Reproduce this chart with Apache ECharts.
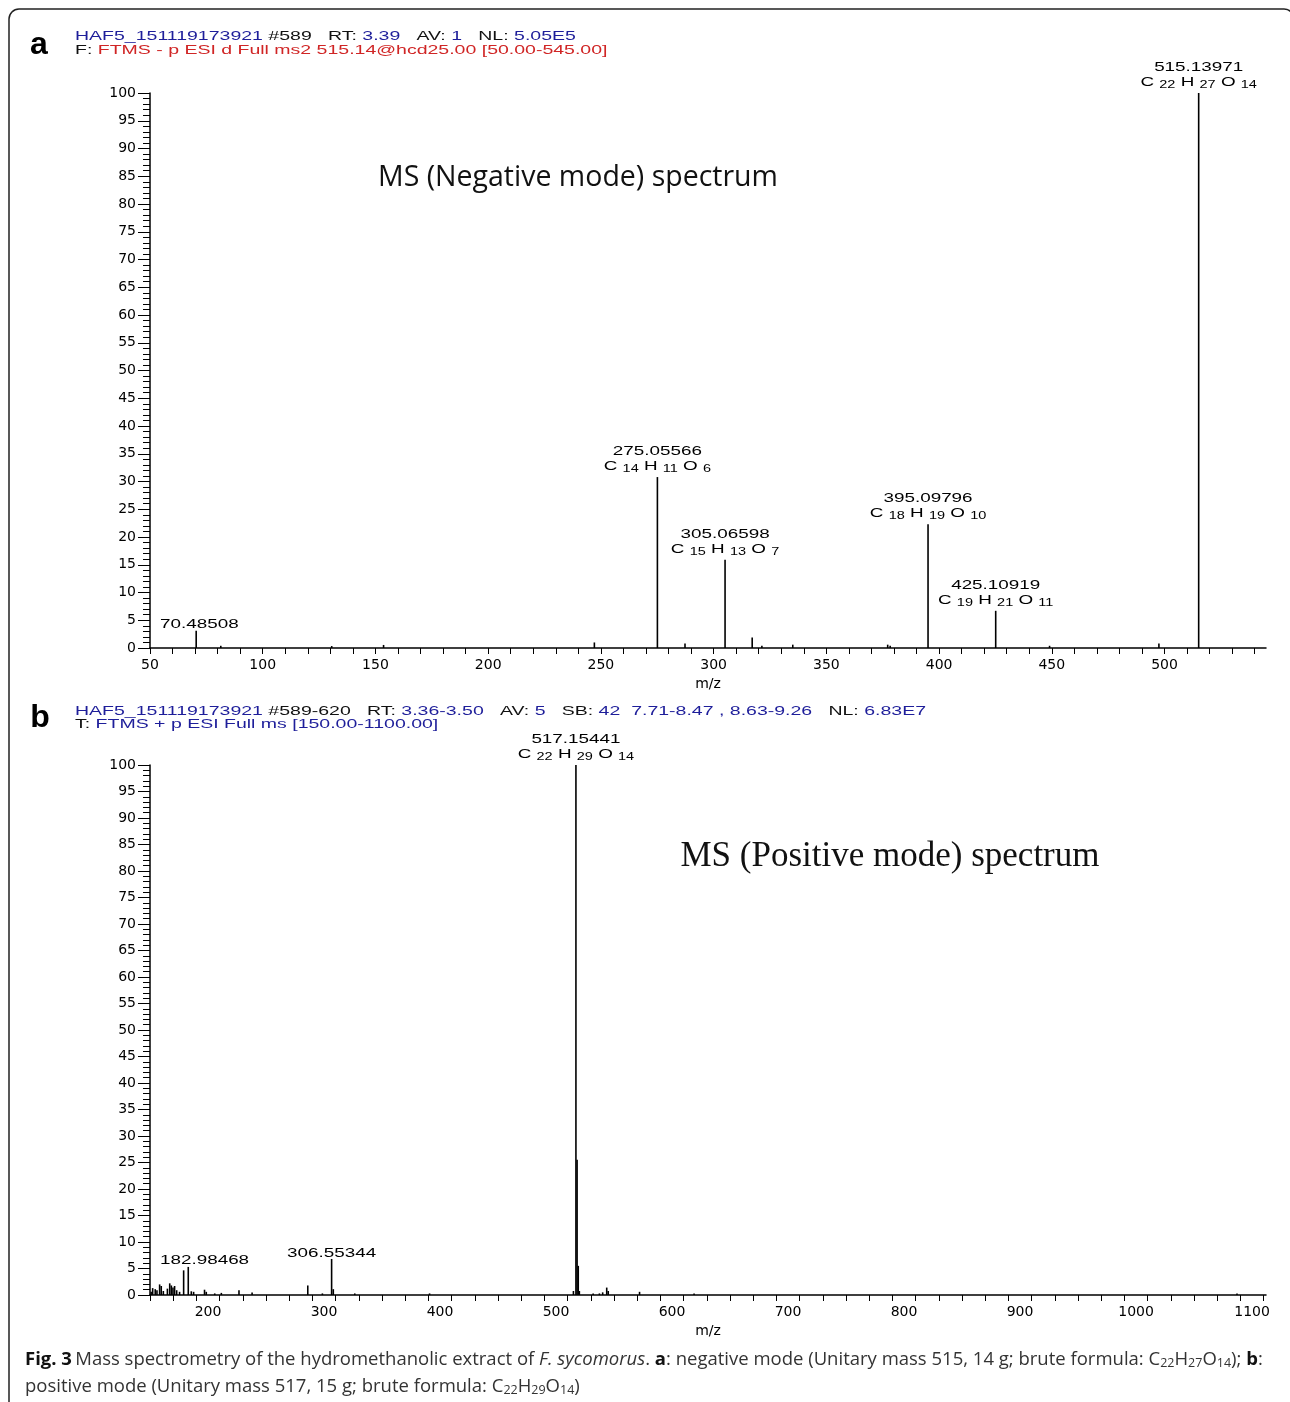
<!DOCTYPE html>
<html><head><meta charset="utf-8">
<script src="https://cdn.jsdelivr.net/npm/echarts@6/dist/echarts.min.js"></script>
<style>html,body{margin:0;padding:0;background:#fff}#c{width:1290px;height:1402px}</style>
</head><body><div id="c"></div><script>
// ---------- DATA ----------
// Panel a: negative mode (m/z, relative abundance %)
const negMz = [70.48508, 81.4, 130.6, 153.6, 247.1, 275.05566, 287.3, 305.06598, 317.1, 321.4, 335.1, 377.2, 378.3, 395.09796, 425.10919, 449.0, 497.5, 515.13971];
const negIntensity = [3.1, 0.4, 0.35, 0.55, 1.0, 30.8, 0.8, 15.9, 1.9, 0.4, 0.6, 0.6, 0.4, 22.3, 6.7, 0.4, 0.8, 100];
const negLabelMz = [70.48508, 275.05566, 305.06598, 395.09796, 425.10919, 515.13971];
const negLabelIntensity = [3.1, 30.8, 15.9, 22.3, 6.7, 100];
const negFormula = ['', 'C14H11O6', 'C15H13O7', 'C18H19O10', 'C19H21O11', 'C22H27O14'];
const negXTickLabels = [50, 100, 150, 200, 250, 300, 350, 400, 450, 500];

// Panel b: positive mode
const posMz = [151, 152.3, 154.5, 156, 158.3, 159.7, 161.5, 165, 167, 168.4, 169.8, 171.2, 173, 175.5, 179, 182.98468, 185.6, 187.6, 197, 198.5, 205.8, 211.5, 226.7, 238, 286, 298.6, 306.55344, 308, 326.5, 391, 515, 517.15441, 518.15, 519.15, 520.1, 532, 537.4, 540.2, 543.7, 545, 572, 619, 1087];
const posIntensity = [0.6, 1.3, 1.1, 0.9, 2.0, 1.7, 0.75, 1.2, 2.2, 1.8, 1.4, 1.7, 0.9, 0.6, 4.65, 5.3, 0.7, 0.6, 1.0, 0.6, 0.3, 0.4, 0.9, 0.45, 1.8, 0.3, 6.8, 1.1, 0.3, 0.3, 0.75, 100, 25.5, 5.5, 0.75, 0.3, 0.3, 0.5, 1.4, 0.75, 0.6, 0.3, 0.3];
const posLabelMz = [182.98468, 306.55344, 517.15441];
const posLabelIntensity = [5.3, 6.8, 100];
const posFormula = ['', '', 'C22H29O14'];
const posXTickLabels = [200, 300, 400, 500, 600, 700, 800, 900, 1000, 1100];

const yTickLabels = [0, 5, 10, 15, 20, 25, 30, 35, 40, 45, 50, 55, 60, 65, 70, 75, 80, 85, 90, 95, 100];

// ---------- HELPERS ----------
const X_STRETCH = 1.45;
const LABEL_FONT = '13px "Liberation Sans"';
const mctx = document.createElement('canvas').getContext('2d');
function textW(str, font) { mctx.font = font; return mctx.measureText(str).width; }
function formulaRich(f) {
  const parts = [];
  const re = /([A-Z][a-z]?)(\d+)/g; let m; let first = true;
  while ((m = re.exec(f))) {
    parts.push('{e|' + (first ? '' : ' ') + m[1] + ' }{s|' + m[2] + '}');
    first = false;
  }
  return parts.join('');
}
const LABEL_RICH = {
  m: { fontSize: 13, fontFamily: 'Liberation Sans', lineHeight: 15, fill: '#000' },
  e: { fontSize: 13, fontFamily: 'Liberation Sans', lineHeight: 15, fill: '#000' },
  s: { fontSize: 10, fontFamily: 'Liberation Sans', lineHeight: 8, verticalAlign: 'bottom', fill: '#000' }
};
function stickRender(params, api) {
  const x = api.value(0), y = api.value(1);
  const p0 = api.coord([x, 0]), p1 = api.coord([x, y]);
  return { type: 'line', shape: { x1: p0[0], y1: p0[1], x2: p1[0], y2: p1[1] }, style: { stroke: '#000', lineWidth: 1.6 } };
}
function labelRenderer(formulaArr) {
  return function (params, api) {
    const i = api.value(2);
    const mz = api.value(0);
    const p = api.coord([mz, api.value(1)]);
    const mzText = mz.toFixed(5);
    let text = '{m|' + mzText + '}';
    const hasF = !!formulaArr[i];
    if (hasF) text += '\n' + formulaRich(formulaArr[i]);
    const w = textW(mzText, LABEL_FONT) * X_STRETCH;
    const x = Math.max(p[0], params.coordSys.x + 10 + w / 2);
    return { type: 'text', x: x, y: p[1] - (hasF ? 3 : -1.5), scaleX: X_STRETCH,
      style: { text: text, rich: LABEL_RICH, align: 'center', verticalAlign: 'bottom', fill: '#000', font: LABEL_FONT } };
  };
}
function range(a, b, s) { const r = []; for (let v = a; v <= b + 1e-9; v += s) r.push(v); return r; }

const axisFont = { fontFamily: 'DejaVu Sans', fontSize: 14, color: '#000', formatter: v => String(v) };
function xAxisCfg(gi, min, max, labels, minorStep) {
  return {
    gridIndex: gi, type: 'value', min: min, max: max,
    name: 'm/z', nameLocation: 'middle', nameGap: 29,
    nameTextStyle: { fontFamily: 'DejaVu Sans', fontSize: 14, color: '#000' },
    axisLine: { show: true, onZero: false, lineStyle: { color: '#000', width: 1.5 } },
    axisTick: { show: true, length: 6, customValues: range(min, max, minorStep).filter(v => v >= min && v <= max), lineStyle: { color: '#000', width: 1 } },
    axisLabel: Object.assign({ customValues: labels, margin: 10 }, axisFont),
    splitLine: { show: false }
  };
}
function yAxisCfg(gi) {
  return {
    gridIndex: gi, type: 'value', min: 0, max: 100, interval: 5,
    axisLine: { show: true, onZero: false, lineStyle: { color: '#000', width: 1.5 } },
    axisTick: { show: true, length: 12, lineStyle: { color: '#000', width: 1 } },
    minorTick: { show: true, splitNumber: 5, length: 7, lineStyle: { color: '#000', width: 1 } },
    axisLabel: Object.assign({ customValues: yTickLabels, margin: 14 }, axisFont),
    splitLine: { show: false }, minorSplitLine: { show: false }
  };
}

// header rich styles
const HB = '#1e1e9a', HR = '#d02525';
const headerRich = {
  b: { fill: HB, fontFamily: 'Liberation Sans', fontSize: 13 },
  r: { fill: HR, fontFamily: 'Liberation Sans', fontSize: 13 },
  k: { fill: '#111', fontFamily: 'Liberation Sans', fontSize: 13 }
};
const CF = 18.5;
const capRich = {
  fb: { fontFamily: 'Open Sans', fontWeight: 'bold', fontSize: CF, fill: '#111' },
  bb: { fontFamily: 'Open Sans', fontWeight: 'bold', fontSize: CF, fill: '#111' },
  n: { fontFamily: 'Open Sans', fontSize: CF, fill: '#333' },
  i: { fontFamily: 'Open Sans', fontStyle: 'italic', fontSize: CF, fill: '#333' },
  sub: { fontFamily: 'Open Sans', fontSize: 12.5, fill: '#333', lineHeight: 10, verticalAlign: 'bottom' }
};
function hdr(x, y, text) {
  return { type: 'text', x: x, y: y, scaleX: 1.5, silent: true,
    style: { text: text, rich: headerRich, verticalAlign: 'middle', font: '13px "Liberation Sans"' } };
}

const chart = echarts.init(document.getElementById('c'), null, { renderer: 'canvas' });
chart.setOption({
  animation: false,
  backgroundColor: '#fff',
  grid: [
    { left: 150, top: 93, width: 1116, height: 555 },
    { left: 150, top: 765, width: 1116, height: 530 }
  ],
  xAxis: [xAxisCfg(0, 50, 545, negXTickLabels, 10), xAxisCfg(1, 150, 1112, posXTickLabels, 20)],
  yAxis: [yAxisCfg(0), yAxisCfg(1)],
  series: [
    { type: 'custom', xAxisIndex: 0, yAxisIndex: 0, renderItem: stickRender, data: negMz.map((m, i) => [m, negIntensity[i]]) },
    { type: 'custom', xAxisIndex: 0, yAxisIndex: 0, renderItem: labelRenderer(negFormula), clip: false, z: 5,
      data: negLabelMz.map((m, i) => [m, negLabelIntensity[i], i]) },
    { type: 'custom', xAxisIndex: 1, yAxisIndex: 1, renderItem: stickRender, data: posMz.map((m, i) => [m, posIntensity[i]]) },
    { type: 'custom', xAxisIndex: 1, yAxisIndex: 1, renderItem: labelRenderer(posFormula), clip: false, z: 5,
      data: posLabelMz.map((m, i) => [m, posLabelIntensity[i], i]) }
  ],
  graphic: [
    { type: 'rect', silent: true, shape: { x: 9, y: 9, width: 1285, height: 1420, r: 10 }, style: { fill: 'none', stroke: '#222', lineWidth: 1.5 } },
    { type: 'text', x: 39, y: 45, silent: true, style: { text: 'a', font: 'bold 32px "Liberation Sans"', fill: '#000', align: 'center', verticalAlign: 'middle' } },
    { type: 'text', x: 40, y: 718, silent: true, style: { text: 'b', font: 'bold 32px "Liberation Sans"', fill: '#000', align: 'center', verticalAlign: 'middle' } },
    hdr(75, 36, '{b|HAF5_151119173921} {k|#589}   {k|RT:} {b|3.39}   {k|AV:} {b|1}   {k|NL:} {b|5.05E5}'),
    hdr(75, 50, '{k|F:} {r|FTMS - p ESI d Full ms2 515.14@hcd25.00 [50.00-545.00]}'),
    hdr(75, 711, '{b|HAF5_151119173921} {k|#589-620}   {k|RT:} {b|3.36-3.50}   {k|AV:} {b|5}   {k|SB:} {b|42  7.71-8.47 , 8.63-9.26}   {k|NL:} {b|6.83E7}'),
    hdr(75, 724, '{k|T:} {b|FTMS + p ESI Full ms [150.00-1100.00]}'),
    { type: 'text', x: 578, y: 178, silent: true, style: { text: 'MS (Negative mode) spectrum', font: '28.5px "Open Sans"', fill: '#111', align: 'center', verticalAlign: 'middle' } },
    { type: 'text', x: 890, y: 857, silent: true, style: { text: 'MS (Positive mode) spectrum', font: '35px "Liberation Serif"', fill: '#111', align: 'center', verticalAlign: 'middle' } },
    { type: 'text', x: 25, y: 1360, silent: true, style: { rich: capRich, verticalAlign: 'middle',
      text: '{fb|Fig. 3} {n|Mass spectrometry of the hydromethanolic extract of }{i|F. sycomorus}{n|. }{bb|a}{n|: negative mode (Unitary mass 515, 14 g; brute formula: C}{sub|22}{n|H}{sub|27}{n|O}{sub|14}{n|); }{bb|b}{n|:}' } },
    { type: 'text', x: 25, y: 1387, silent: true, style: { rich: capRich, verticalAlign: 'middle',
      text: '{n|positive mode (Unitary mass 517, 15 g; brute formula: C}{sub|22}{n|H}{sub|29}{n|O}{sub|14}{n|)}' } }
  ]
});
</script></body></html>
